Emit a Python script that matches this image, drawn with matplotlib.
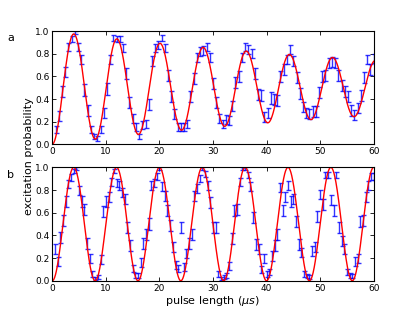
import numpy as np
import matplotlib
matplotlib.use("Agg")
import matplotlib.pyplot as plt

# panel a: damped oscillation, measured every 0.6 us
time_a = np.round(np.arange(1, 101) * 0.6, 2)
prob_a = [0.13, 0.25, 0.47, 0.64, 0.86, 0.93, 0.99, 0.86, 0.75, 0.48,
          0.30, 0.13, 0.07, 0.05, 0.13, 0.28, 0.49, 0.75, 0.94, 0.93,
          0.93, 0.85, 0.63, 0.37, 0.23, 0.15, 0.07, 0.17, 0.18, 0.35,
          0.74, 0.85, 0.88, 0.94, 0.85, 0.61, 0.42, 0.27, 0.15, 0.15,
          0.15, 0.18, 0.42, 0.58, 0.77, 0.82, 0.83, 0.86, 0.77, 0.54,
          0.37, 0.23, 0.18, 0.22, 0.21, 0.34, 0.55, 0.60, 0.77, 0.86,
          0.84, 0.80, 0.63, 0.44, 0.43, 0.24, 0.28, 0.41, 0.40, 0.39,
          0.60, 0.66, 0.75, 0.84, 0.74, 0.59, 0.45, 0.33, 0.28, 0.27,
          0.29, 0.29, 0.46, 0.60, 0.61, 0.72, 0.73, 0.72, 0.61, 0.52,
          0.47, 0.42, 0.30, 0.26, 0.32, 0.43, 0.59, 0.75, 0.66, 0.76]

# panel b: undamped oscillation, measured every 0.5 us
time_b = np.round(np.arange(1, 121) * 0.5, 2)
prob_b = [0.28, 0.17, 0.38, 0.53, 0.70, 0.85, 0.91, 0.97, 0.99, 0.80,
          0.70, 0.63, 0.33, 0.20, 0.06, 0.02, 0.03, 0.19, 0.61, 0.70,
          0.74, 0.87, 0.97, 0.86, 0.84, 0.78, 0.72, 0.47, 0.31, 0.11,
          0.05, 0.05, 0.16, 0.33, 0.41, 0.50, 0.84, 0.86, 0.92, 0.99,
          0.83, 0.75, 0.62, 0.49, 0.30, 0.14, 0.11, 0.47, 0.12, 0.24,
          0.33, 0.41, 0.75, 0.81, 0.90, 0.99, 0.94, 0.84, 0.69, 0.47,
          0.47, 0.06, 0.02, 0.03, 0.05, 0.13, 0.37, 0.62, 0.63, 0.87,
          0.99, 0.99, 0.93, 0.83, 0.56, 0.32, 0.28, 0.10, 0.20, 0.06,
          0.08, 0.22, 0.31, 0.41, 0.82, 0.62, 0.74, 0.84, 0.70, 0.72,
          0.52, 0.32, 0.25, 0.06, 0.04, 0.03, 0.26, 0.30, 0.57, 0.76,
          0.67, 0.93, 0.93, 0.71, 0.62, 0.93, 0.47, 0.35, 0.28, 0.08,
          0.05, 0.04, 0.17, 0.20, 0.52, 0.53, 0.74, 0.84, 0.92, 0.92]

n_shots = 100  # projection noise -> error bars

# fit parameters
period_a, decay_a = 8.05, 84.0
period_b = 8.0

x_ticks = [0, 10, 20, 30, 40, 50, 60]
y_ticks = [0.0, 0.2, 0.4, 0.6, 0.8, 1.0]

fig = plt.figure(figsize=(4.15, 3.13), dpi=100)
ax_a = fig.add_axes([0.126, 0.539, 0.7745, 0.361])
ax_b = fig.add_axes([0.126, 0.103, 0.7745, 0.3623])

t_fit = np.linspace(0, 60, 1200)
fit_a = 0.5 - 0.5 * np.exp(-t_fit / decay_a) * np.cos(2 * np.pi * t_fit / period_a)
fit_b = 0.5 - 0.5 * np.cos(2 * np.pi * t_fit / period_b)

for ax, t, p, fit in [(ax_a, time_a, prob_a, fit_a), (ax_b, time_b, prob_b, fit_b)]:
    p = np.array(p)
    err = np.sqrt(p * (1 - p) / n_shots)
    ax.errorbar(t, p, yerr=err, fmt='none', ecolor='b', elinewidth=1,
                capsize=1.8, capthick=1, alpha=0.8)
    ax.plot(t_fit, fit, color='r', lw=1)
    ax.set_xlim(0, 60)
    ax.set_ylim(0, 1)
    ax.set_xticks(x_ticks)
    ax.set_yticks(y_ticks)
    ax.set_yticklabels(['%.1f' % v for v in y_ticks])
    ax.tick_params(direction='in', top=True, right=True, length=3,
                   width=0.6, labelsize=6.5, pad=2)
    for s in ax.spines.values():
        s.set_linewidth(0.8)

ax_b.set_xlabel(r'pulse length ($\mu s$)', fontsize=8, labelpad=1)
fig.text(0.07, 0.5, 'excitation probability', rotation=90, fontsize=8,
         ha='center', va='center')
fig.text(0.025, 0.878, 'a', fontsize=8, ha='center', va='center')
fig.text(0.025, 0.442, 'b', fontsize=8, ha='center', va='center')

fig.savefig('out.png', dpi=100)
